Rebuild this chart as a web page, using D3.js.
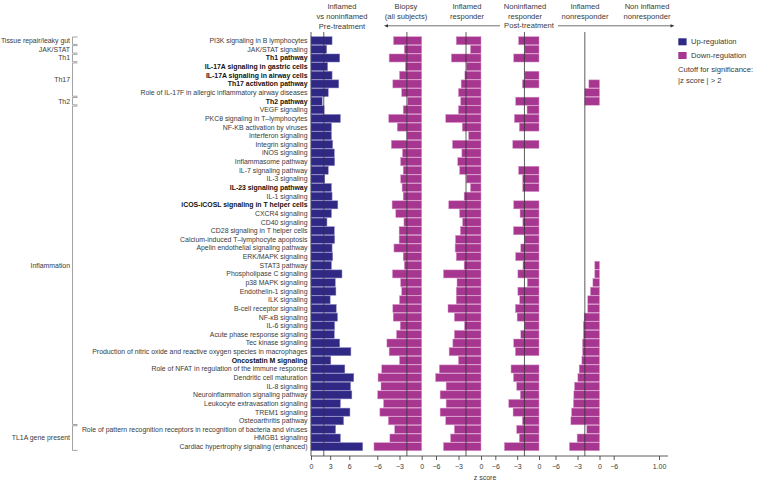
<!DOCTYPE html>
<html>
<head>
<meta charset="utf-8">
<script src="https://cdn.jsdelivr.net/npm/d3@7"></script>
<style>
  html, body { margin: 0; padding: 0; background: #fff; }
  svg { display: block; font-family: "Liberation Sans", Arial, sans-serif; }
</style>
</head>
<body>
<svg id="chart" width="759" height="482"></svg>
<script>
// ---------------- DATA ----------------
const categories = [
  "PI3K signaling in B lymphocytes",
  "JAK/STAT signaling",
  "Th1 pathway",
  "IL-17A signaling in gastric cells",
  "IL-17A signaling in airway cells",
  "Th17 activation pathway",
  "Role of IL-17F in allergic inflammatory airway diseases",
  "Th2 pathway",
  "VEGF signaling",
  "PKCθ signaling in T\u2013lymphocytes",
  "NF-KB activation by viruses",
  "Interferon signaling",
  "Integrin signaling",
  "iNOS signaling",
  "Inflammasome pathway",
  "IL-7 signaling pathway",
  "IL-3 signaling",
  "IL-23 signaling pathway",
  "IL-1 signaling",
  "iCOS-iCOSL signaling in T helper cells",
  "CXCR4 signaling",
  "CD40 signaling",
  "CD28 signaling in T helper cells",
  "Calcium-induced T\u2013lymphocyte apoptosis",
  "Apelin endothelial signaling pathway",
  "ERK/MAPK signaling",
  "STAT3 pathway",
  "Phospholipase C signaling",
  "p38 MAPK signaling",
  "Endothelin-1 signaling",
  "ILK signaling",
  "B-cell receptor signaling",
  "NF-\u03baB signaling",
  "IL-6 signaling",
  "Acute phase response signaling",
  "Tec kinase signaling",
  "Production of nitric oxide and reactive oxygen species in macrophages",
  "Oncostatin M signaling",
  "Role of NFAT in regulation of the immune response",
  "Dendritic cell maturation",
  "IL-8 signaling",
  "Neuroinflammation signaling pathway",
  "Leukocyte extravasation signaling",
  "TREM1 signaling",
  "Osteoarthritis pathway",
  "Role of pattern recognition receptors in recognition of bacteria and viruses",
  "HMGB1 signaling",
  "Cardiac hypertrophy signaling (enhanced)"
];

const boldCategories = [
  "Th1 pathway",
  "IL-17A signaling in gastric cells",
  "IL-17A signaling in airway cells",
  "Th17 activation pathway",
  "Th2 pathway",
  "IL-23 signaling pathway",
  "iCOS-iCOSL signaling in T helper cells",
  "Oncostatin M signaling"
];

// Inflamed vs noninflamed, pre-treatment (up-regulation)
const preTreatment = [
  3.3, 2.45, 4.5, 2.6, 3.3, 4.35, 2.7, 1.75, 2.05, 4.6,
  3.2, 3.2, 3.4, 3.65, 3.7, 2.7, 2.15, 3.2, 3.3, 4.2,
  3.2, 2.5, 3.65, 3.7, 3.3, 3.4, 3.2, 4.85, 3.8, 3.9,
  3.0, 3.95, 4.15, 3.7, 3.65, 4.5, 6.25, 3.1, 5.3, 6.7,
  6.2, 6.4, 4.6, 6.1, 5.1, 3.85, 4.6, 8.1
];

// Post-treatment: biopsy (all subjects)
const biopsyAll = [
  -3.8, -2.35, -4.4, -2.2, -3.0, -3.9, -2.7, -1.9, -2.5, -4.45,
  -3.3, -2.0, -4.1, -2.6, -2.85, -2.5, -2.85, -2.65, -2.5, -4.0,
  -3.5, -2.4, -3.05, -3.05, -3.75, -2.5, -2.35, -3.95, -2.85, -2.7,
  -3.0, -3.9, -3.85, -2.9, -3.4, -4.7, -4.4, -3.0, -5.4, -5.9,
  -5.5, -5.95, -5.15, -5.65, -4.5, -3.65, -4.3, -6.45
];

// Post-treatment: inflamed responder
const inflamedResponder = [
  -3.3, -1.4, -3.95, -1.95, -2.15, -2.65, -3.0, -2.7, -3.0, -4.7,
  -2.5, -1.65, -3.8, -2.55, -3.1, -2.85, -1.95, -1.4, -2.25, -4.3,
  -2.85, -2.45, -2.75, -3.4, -3.45, -3.3, -2.25, -5.0, -3.2, -3.3,
  -3.3, -4.4, -3.55, -2.2, -3.55, -3.75, -4.25, -3.0, -5.55, -6.05,
  -4.65, -5.45, -4.65, -5.45, -4.7, -3.55, -4.05, -5.0
];

// Post-treatment: noninflamed responder (null = not shown)
const noninflamedResponder = [
  -2.8, -1.95, -3.47, null, -1.95, -2.28, null, -3.2, -1.64, -3.38,
  -2.7, null, -3.6, null, null, -2.8, -2.24, -2.24, null, -3.47,
  -2.6, -2.22, -3.5, -1.96, -2.5, -3.2, -2.2, -2.9, -1.6, -2.9,
  -2.65, -3.24, -3.0, -1.96, -2.5, -3.47, -3.24, null, -3.84, -3.5,
  -3.06, -2.56, -4.15, -3.56, -2.28, -3.06, -2.7, -4.75
];

// Post-treatment: inflamed nonresponder
const inflamedNonresponder = [
  null, null, null, null, null, -1.45, -2.0, -2.0, null, null,
  null, null, null, null, null, null, null, null, null, null,
  null, null, null, null, null, null, -0.64, -0.64, -0.9, -1.23,
  -1.6, -1.6, -2.1, -2.2, -2.2, -2.3, -2.3, -2.4, -2.77, -2.95,
  -3.4, -3.5, -3.55, -3.8, -3.9, -1.73, -3.05, -4.1
];

const panelTitles = [
  ["Inflamed", "vs noninflamed", "Pre-treatment"],
  ["Biopsy", "(all subjects)"],
  ["Inflamed", "responder"],
  ["Noninflamed", "responder"],
  ["Inflamed", "nonresponder"],
  ["Non inflamed", "nonresponder"]
];

const upTicks = [0, 3, 6];
const downTicks = [-6, -3, 0];
const emptyPanelTickValues = [-6, 1];
const emptyPanelTickLabels = ["\u22126", "1.00"];
const cutoff = 2;

const groupNames = ["Tissue repair/leaky gut", "JAK/STAT", "Th1", "Th17", "Th2", "Inflammation", "TL1A gene present"];
const groupFirst = ["PI3K signaling in B lymphocytes", "JAK/STAT signaling", "Th1 pathway", "IL-17A signaling in gastric cells", "Th2 pathway", "VEGF signaling", "Role of pattern recognition receptors in recognition of bacteria and viruses"];
const groupLast = ["PI3K signaling in B lymphocytes", "JAK/STAT signaling", "Th1 pathway", "Role of IL-17F in allergic inflammatory airway diseases", "Th2 pathway", "Osteoarthritis pathway", "Cardiac hypertrophy signaling (enhanced)"];

const legendLabels = ["Up-regulation", "Down-regulation"];
const legendNote = ["Cutoff for significance:", "|z score | > 2"];

// ---------------- DRAWING ----------------
const svg = d3.select("#chart");
const UP = "#2f2885", DOWN = "#a6368f";
const UP_EDGE = "#8681bf", DOWN_EDGE = "#d894c9";
const TXT = "#3a3a3a";
const LINE = "#333";

const y = d3.scaleBand().domain(categories).range([36.4, 451.0]).paddingInner(0);
const yTop = 32, axisY = 456;

const panels = [
  { values: preTreatment, scale: d3.scaleLinear().domain([0, 6]).range([311, 349.3]), ticks: upTicks, color: UP, edge: UP_EDGE, cut: cutoff, center: 342 },
  { values: biopsyAll, scale: d3.scaleLinear().domain([-6, 0]).range([377.3, 421.7]), ticks: downTicks, color: DOWN, edge: DOWN_EDGE, cut: -cutoff, center: 406 },
  { values: inflamedResponder, scale: d3.scaleLinear().domain([-6, 0]).range([436, 481]), ticks: downTicks, color: DOWN, edge: DOWN_EDGE, cut: -cutoff, center: 467 },
  { values: noninflamedResponder, scale: d3.scaleLinear().domain([-6, 0]).range([495.3, 539]), ticks: downTicks, color: DOWN, edge: DOWN_EDGE, cut: -cutoff, center: 525 },
  { values: inflamedNonresponder, scale: d3.scaleLinear().domain([-6, 0]).range([555.5, 599.5]), ticks: downTicks, color: DOWN, edge: DOWN_EDGE, cut: -cutoff, center: 585 },
  { values: null, scale: d3.scaleLinear().domain([-6, 1]).range([613.7, 659]), ticks: emptyPanelTickValues, labels: emptyPanelTickLabels, center: 647 }
];

// bars
panels.forEach(p => {
  if (!p.values) return;
  const data = categories.map((c, i) => ({ c, v: p.values[i] })).filter(d => d.v !== null);
  svg.append("g").selectAll("rect").data(data).join("rect")
    .attr("x", d => Math.min(p.scale(0), p.scale(d.v)))
    .attr("width", d => Math.abs(p.scale(d.v) - p.scale(0)))
    .attr("y", d => y(d.c) + 0.3)
    .attr("height", y.bandwidth() - 0.6)
    .attr("fill", p.color)
    .attr("stroke", p.edge)
    .attr("stroke-width", 0.5);
});

// vertical lines (zero axis of first panel and cutoff lines)
svg.append("line").attr("x1", panels[0].scale(0)).attr("x2", panels[0].scale(0))
  .attr("y1", yTop).attr("y2", axisY).attr("stroke", LINE).attr("stroke-width", 0.8);
panels.forEach(p => {
  if (p.cut === undefined) return;
  svg.append("line").attr("x1", p.scale(p.cut)).attr("x2", p.scale(p.cut))
    .attr("y1", yTop).attr("y2", axisY).attr("stroke", LINE).attr("stroke-width", 0.8);
});

// x axes
svg.append("line").attr("x1", panels[0].scale(0)).attr("x2", 668)
  .attr("y1", axisY).attr("y2", axisY).attr("stroke", LINE).attr("stroke-width", 0.8);
panels.forEach(p => {
  const ax = d3.axisBottom(p.scale).tickValues(p.ticks).tickSize(4).tickPadding(4.5);
  if (p.labels) ax.tickFormat((d, i) => p.labels[i]);
  else ax.tickFormat(d3.format("d"));
  const g = svg.append("g").attr("transform", `translate(0,${axisY})`).call(ax);
  g.select(".domain").remove();
  g.selectAll("line").attr("stroke", LINE).attr("stroke-width", 0.8);
  g.selectAll("text").attr("fill", TXT).style("font-size", "7px").style("font-family", "'Liberation Sans', Arial, sans-serif");
});
svg.append("text").attr("x", 485).attr("y", 479.5).attr("text-anchor", "middle")
  .attr("fill", TXT).style("font-size", "7px").text("z score");

// row labels
svg.append("g").selectAll("text").data(categories).join("text")
  .attr("x", 307.5)
  .attr("y", d => y(d) + y.bandwidth() / 2)
  .attr("dy", "0.35em")
  .attr("text-anchor", "end")
  .attr("fill", d => boldCategories.includes(d) ? "#111" : TXT)
  .style("font-weight", d => boldCategories.includes(d) ? "bold" : "normal")
  .style("font-size", "6.9px")
  .text(d => d);

// group brackets
groupNames.forEach((name, i) => {
  const y0 = y(groupFirst[i]) + y.bandwidth() / 2 - 3.7;
  const y1 = y(groupLast[i]) + y.bandwidth() / 2 + 3.7;
  const bx = 72.5, tx = 77.5;
  svg.append("path")
    .attr("d", `M${tx},${y0}H${bx}V${y1}H${tx}`)
    .attr("fill", "none").attr("stroke", "#8c8c8c").attr("stroke-width", 0.8);
  svg.append("text").attr("x", 70).attr("y", (y0 + y1) / 2).attr("dy", "0.35em")
    .attr("text-anchor", "end").attr("fill", TXT).style("font-size", "6.9px").text(name);
});

// panel titles
panels.forEach((p, i) => {
  panelTitles[i].forEach((t, j) => {
    svg.append("text").attr("x", p.center).attr("y", 8.6 + j * 10.2)
      .attr("text-anchor", "middle").attr("fill", TXT).style("font-size", "7.6px").text(t);
  });
});

// Post-treatment arrow
const arrowY = 25.8;
svg.append("text").attr("x", 529).attr("y", arrowY).attr("dy", "0.35em")
  .attr("text-anchor", "middle").attr("fill", TXT).style("font-size", "7.6px").text("Post-treatment");
svg.append("line").attr("x1", 386).attr("x2", 500).attr("y1", arrowY).attr("y2", arrowY)
  .attr("stroke", LINE).attr("stroke-width", 0.7);
svg.append("line").attr("x1", 558).attr("x2", 672).attr("y1", arrowY).attr("y2", arrowY)
  .attr("stroke", LINE).attr("stroke-width", 0.7);
svg.append("path").attr("d", `M384,${arrowY}l4,-1.6v3.2z`).attr("fill", LINE);
svg.append("path").attr("d", `M674.5,${arrowY}l-4,-1.6v3.2z`).attr("fill", LINE);

// legend
[UP, DOWN].forEach((c, i) => {
  svg.append("rect").attr("x", 678.3).attr("y", 38.3 + i * 13.7).attr("width", 8.3).attr("height", 7)
    .attr("fill", c);
  svg.append("text").attr("x", 691).attr("y", 41.8 + i * 13.7).attr("dy", "0.35em")
    .attr("fill", TXT).style("font-size", "7.6px").text(legendLabels[i]);
});
legendNote.forEach((t, i) => {
  svg.append("text").attr("x", 678).attr("y", 69.3 + i * 10.7).attr("dy", "0.35em")
    .attr("fill", TXT).style("font-size", "7.6px").text(t);
});
</script>
</body>
</html>
